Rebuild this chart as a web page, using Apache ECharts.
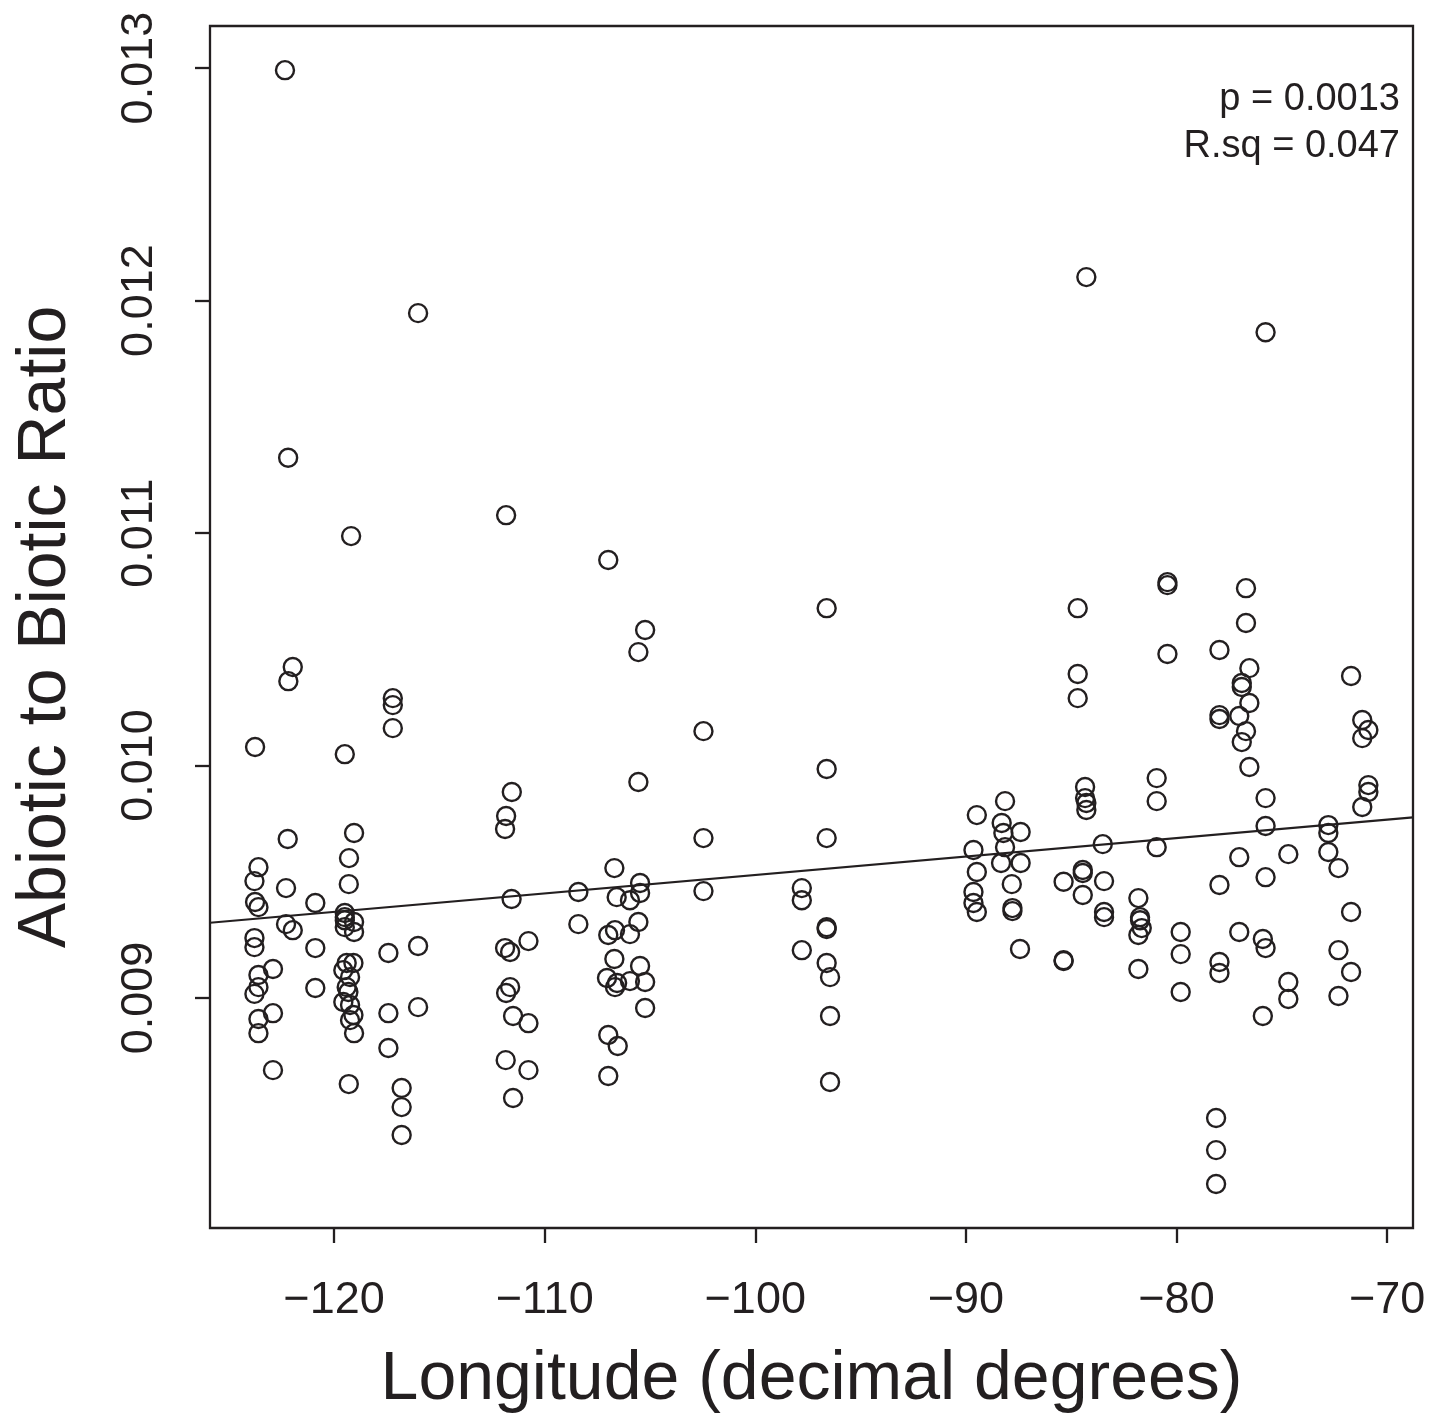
<!DOCTYPE html>
<html>
<head>
<meta charset="utf-8">
<title>Abiotic to Biotic Ratio vs Longitude</title>
<script src="https://cdn.jsdelivr.net/npm/echarts@6/dist/echarts.min.js"></script>
<style>
  html, body { margin: 0; padding: 0; background: #fff; }
  #chart { width: 1447px; height: 1424px; }
</style>
</head>
<body>
<div id="chart"></div>
<script>
// site longitude (decimal degrees), grouped roughly by site column
var longitude = [
  -123.75, -123.59, -123.78, -123.75, -123.59, -123.78, -123.78, -123.59, -123.59, -123.78, -123.59, -123.59,
  -122.90, -122.90, -122.90, -122.33, -122.18, -121.96, -122.17, -122.20, -122.28, -122.28, -121.96,
  -120.89, -120.89, -120.89,
  -119.19, -119.49, -119.05, -119.29, -119.30, -119.49, -119.49, -119.49, -119.49, -119.05, -119.05, -119.40,
  -119.08, -119.56, -119.24, -119.40, -119.32, -119.56, -119.24, -119.08, -119.24, -119.05, -119.30,
  -117.21, -117.21, -117.21, -117.42, -117.42, -117.42, -116.79, -116.79, -116.79, -116.01, -116.01, -116.01,
  -111.83, -111.56, -111.83, -111.88, -111.57, -111.88, -111.64, -111.64, -111.83, -111.50, -110.77, -111.85,
  -110.77, -111.50, -110.77,
  -108.40, -108.40,
  -106.98, -106.69, -106.58, -105.95, -106.66, -106.98, -105.95, -106.69, -105.47, -105.55, -105.47, -105.47,
  -105.55, -105.23, -105.55, -107.04, -106.56, -106.66, -105.95, -105.23, -105.23, -106.98, -106.53, -106.98,
  -102.46, -102.46, -102.46,
  -97.79, -97.79, -97.79,
  -96.61, -96.61, -96.61, -96.61, -96.61, -96.61, -96.45, -96.45, -96.45,
  -89.48, -89.64, -89.48, -89.64, -89.64, -89.48,
  -88.14, -88.30, -88.22, -87.40, -88.14, -88.33, -87.40, -87.82, -87.79, -87.79, -87.43,
  -85.36, -85.36, -85.36,
  -84.28, -84.69, -84.69, -84.69, -84.34, -84.34, -84.28, -84.28, -84.45, -84.45, -84.45,
  -83.50, -83.44, -83.44, -83.44,
  -81.81, -81.73, -81.73, -81.65, -81.81, -81.81,
  -80.43, -80.43, -80.43, -80.94, -80.94, -80.94,
  -79.80, -79.80, -79.80,
  -77.96, -77.96, -77.96, -77.96, -77.96, -77.96, -78.12, -78.12, -78.12,
  -76.70, -76.70, -76.54, -76.90, -76.90, -76.54, -77.02, -76.70, -76.90, -76.54, -77.02, -77.02,
  -75.77, -75.77, -75.77, -75.77, -75.90, -75.77, -75.90,
  -74.69, -74.69, -74.69,
  -72.79, -72.79, -72.79, -72.31, -72.31, -72.31,
  -71.71, -71.71, -71.71,
  -71.18, -70.89, -71.18, -70.89, -70.89, -71.18
];

// abiotic to biotic ratio, same order as longitude
var ratio = [
  0.010080, 0.009563, 0.009503, 0.009413, 0.009391, 0.009258, 0.009219, 0.009099, 0.009047, 0.009018, 0.008910, 0.008849,
  0.009125, 0.008935, 0.008690, 0.012991, 0.011324, 0.010424, 0.010363, 0.009684, 0.009473, 0.009318, 0.009292,
  0.009409, 0.009215, 0.009043,
  0.010987, 0.010049, 0.009710, 0.009602, 0.009490, 0.009366, 0.009348, 0.009335, 0.009305, 0.009327, 0.009284, 0.009151,
  0.009151, 0.009120, 0.009090, 0.009047, 0.009026, 0.008983, 0.008970, 0.008927, 0.008905, 0.008849, 0.008630,
  0.010290, 0.010260, 0.010161, 0.009194, 0.008935, 0.008785, 0.008613, 0.008531, 0.008411, 0.011946, 0.009224, 0.008961,
  0.011077, 0.009886, 0.009783, 0.009727, 0.009426, 0.009215, 0.009198, 0.009047, 0.009022, 0.008923, 0.008892, 0.008733,
  0.008690, 0.008570, 0.009245,
  0.009456, 0.009318,
  0.010884, 0.009559, 0.009434, 0.009421, 0.009292, 0.009271, 0.009275, 0.009168, 0.009138, 0.009327, 0.009495, 0.009452,
  0.009929, 0.010583, 0.010488, 0.009086, 0.009065, 0.009047, 0.009073, 0.009069, 0.008957, 0.008841, 0.008794, 0.008665,
  0.010148, 0.009688, 0.009460,
  0.009473, 0.009421, 0.009206,
  0.010677, 0.009985, 0.009688, 0.009305, 0.009297, 0.009151, 0.009090, 0.008923, 0.008639,
  0.009787, 0.009637, 0.009542, 0.009456, 0.009409, 0.009370,
  0.009847, 0.009753, 0.009710, 0.009714, 0.009649, 0.009581, 0.009581, 0.009490, 0.009387, 0.009374, 0.009211,
  0.009500, 0.009163, 0.009159,
  0.012101, 0.010677, 0.010394, 0.010290, 0.009908, 0.009860, 0.009839, 0.009809, 0.009551, 0.009538, 0.009443,
  0.009662, 0.009503, 0.009370, 0.009348,
  0.009430, 0.009348, 0.009335, 0.009301, 0.009271, 0.009125,
  0.010789, 0.010776, 0.010480, 0.009946, 0.009847, 0.009649,
  0.009284, 0.009189, 0.009026,
  0.010497, 0.010217, 0.010200, 0.009486, 0.009155, 0.009108, 0.008484, 0.008346, 0.008200,
  0.010763, 0.010613, 0.010419, 0.010355, 0.010338, 0.010269, 0.010213, 0.010148, 0.010101, 0.009994, 0.009606, 0.009284,
  0.011864, 0.009860, 0.009740, 0.009520, 0.009254, 0.009215, 0.008923,
  0.009619, 0.009069, 0.008996,
  0.009744, 0.009710, 0.009628, 0.009559, 0.009206, 0.009009,
  0.010385, 0.009370, 0.009112,
  0.010196, 0.010153, 0.010118, 0.009916, 0.009886, 0.009822
];

// fitted regression line, ends at the plot edges
var fitLon = [-125.89, -68.77];
var fitRatio = [0.009324, 0.009777];

var xTicks = [-120, -110, -100, -90, -80, -70];
var yTicks = [0.009, 0.010, 0.011, 0.012, 0.013];
var xRange = [-125.89, -68.77];
var yRange = [0.008011, 0.013181];

var statLines = ["p = 0.0013", "R.sq = 0.047"];

var ink = "#231f20";
var font = "'Liberation Sans', Arial, Helvetica, sans-serif";

var chart = echarts.init(document.getElementById("chart"));

var points = longitude.map(function (lon, i) {
  return [lon, ratio[i]];
});
var fitLine = fitLon.map(function (lon, i) {
  return [lon, fitRatio[i]];
});

var option = {
  animation: false,
  backgroundColor: "#ffffff",
  grid: {
    left: 210,
    right: 34,
    top: 26,
    bottom: 196,
    show: true,
    borderColor: ink,
    borderWidth: 2.3,
    backgroundColor: "transparent"
  },
  xAxis: {
    type: "value",
    min: xRange[0],
    max: xRange[1],
    name: "Longitude (decimal degrees)",
    nameLocation: "middle",
    nameGap: 118,
    nameTextStyle: { fontFamily: font, fontSize: 68, color: ink },
    axisLine: { show: false },
    axisTick: {
      show: true,
      length: 15,
      customValues: xTicks,
      lineStyle: { color: ink, width: 2.3 }
    },
    axisLabel: {
      customValues: xTicks,
      margin: 50,
      fontFamily: font,
      fontSize: 45,
      color: ink,
      formatter: function (v) {
        return String(v).replace("-", "\u2212");
      }
    },
    splitLine: { show: false }
  },
  yAxis: {
    type: "value",
    min: yRange[0],
    max: yRange[1],
    name: "Abiotic to Biotic Ratio",
    nameLocation: "middle",
    nameGap: 130,
    nameTextStyle: { fontFamily: font, fontSize: 68, color: ink },
    axisLine: { show: false },
    axisTick: {
      show: true,
      length: 15,
      customValues: yTicks,
      lineStyle: { color: ink, width: 2.3 }
    },
    axisLabel: {
      customValues: yTicks,
      rotate: 90,
      margin: 48,
      fontFamily: font,
      fontSize: 45,
      color: ink,
      formatter: function (v) {
        return v.toFixed(3);
      }
    },
    splitLine: { show: false }
  },
  graphic: [
    {
      type: "text",
      right: 47,
      top: 81,
      style: { text: statLines[0], font: "38px " + font, fill: ink, textAlign: "right" }
    },
    {
      type: "text",
      right: 47,
      top: 128,
      style: { text: statLines[1], font: "38px " + font, fill: ink, textAlign: "right" }
    }
  ],
  series: [
    {
      name: "fit",
      type: "line",
      data: fitLine,
      showSymbol: false,
      silent: true,
      lineStyle: { color: ink, width: 2.2 },
      z: 1
    },
    {
      name: "sites",
      type: "scatter",
      data: points,
      symbol: "circle",
      symbolSize: 18,
      itemStyle: { color: "rgba(0,0,0,0)", borderColor: ink, borderWidth: 2.4, opacity: 1 },
      z: 2
    }
  ]
};

chart.setOption(option);
</script>
</body>
</html>
